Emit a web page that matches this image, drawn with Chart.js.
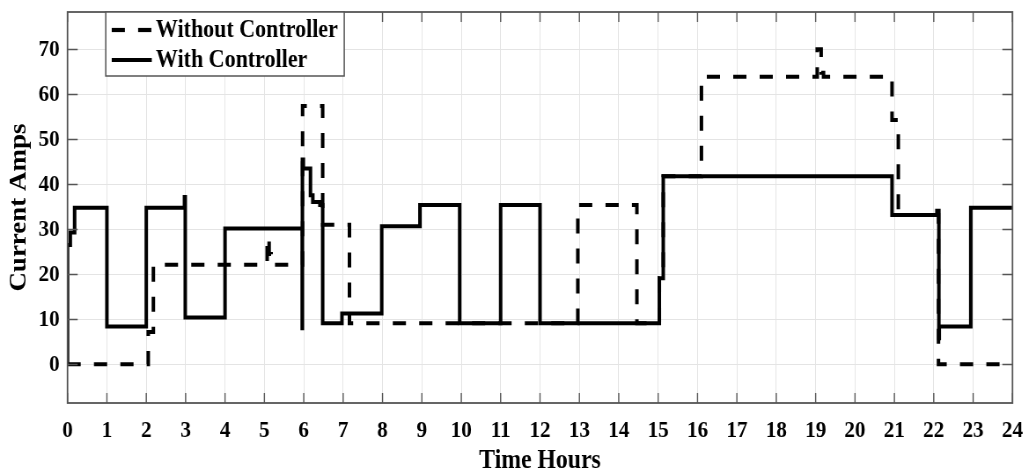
<!DOCTYPE html>
<html>
<head>
<meta charset="utf-8">
<script src="https://cdn.jsdelivr.net/npm/chart.js@4/dist/chart.umd.min.js"></script>
<style>
  html, body { margin: 0; padding: 0; background: #fff; overflow: hidden; }
  /* the figure is laid out on a wider canvas and narrowed to 1029px */
  #wrap { width: 1169px; height: 473px; transform: scaleX(0.8802); transform-origin: 0 0; }
</style>
</head>
<body>
<div id="wrap"><canvas id="c" width="1169" height="473"></canvas></div>
<script>
// Axis ticks
const hourTicks = [0,1,2,3,4,5,6,7,8,9,10,11,12,13,14,15,16,17,18,19,20,21,22,23,24];
const ampTicks = [0,10,20,30,40,50,60,70];

// Series names
const seriesNames = ['Without Controller', 'With Controller'];

// Without controller: time (h) at which the current changes, and the new current (A)
const withoutTime = [0, 2.05, 2.18, 5.07, 5.12, 5.17, 5.97, 6.48, 7.16, 12.96, 14.46, 15.03, 15.13, 16.1, 19.04, 19.14, 19.2, 20.94, 21.1, 22.12, 24];
const withoutAmps = [0, 7.2, 22.1, 28.2, 24.5, 22.1, 57.4, 31.0, 9.1, 35.4, 9.1, 19.1, 41.8, 63.9, 70.0, 64.8, 63.9, 54.3, 33.2, 0, 0];

// With controller: time (h) at which the current changes, and the new current (A)
const withTime = [0, 0, 0.07, 0.18, 1.0, 2.0, 2.97, 2.99, 4.0, 5.96, 5.965, 5.99, 6.17, 6.23, 6.41, 6.48, 6.97, 7.98, 8.95, 9.96, 11.0, 12.0, 15.03, 15.13, 20.94, 22.08, 22.13, 22.14, 22.94, 24];
const withAmps = [0, 26.5, 29.3, 34.8, 8.4, 34.8, 37.2, 10.4, 30.2, 8.0, 45.5, 43.5, 37.6, 36.1, 35.4, 9.1, 11.3, 30.7, 35.4, 9.1, 35.4, 9.1, 19.1, 41.8, 33.2, 34.1, 5.8, 8.4, 34.8, 34.8];

const FONT = 'Liberation Serif';
const toPoints = (ts, vs) => ts.map((t, i) => ({ x: t, y: vs[i] }));

// Box frame with inward tick marks on all four sides
const framePlugin = {
  id: 'frameTicks',
  afterDraw(chart) {
    const { ctx, chartArea: a, scales: { x, y } } = chart;
    ctx.save();
    ctx.strokeStyle = '#555';
    ctx.lineWidth = 1.4;
    ctx.beginPath();
    hourTicks.forEach(h => {
      const px = x.getPixelForValue(h);
      ctx.moveTo(px, a.bottom); ctx.lineTo(px, a.bottom - 10);
      ctx.moveTo(px, a.top); ctx.lineTo(px, a.top + 10);
    });
    ampTicks.forEach(v => {
      const py = Math.round(y.getPixelForValue(v)) + 0.5;
      ctx.moveTo(a.left, py); ctx.lineTo(a.left + 11.5, py);
      ctx.moveTo(a.right, py); ctx.lineTo(a.right - 11.5, py);
    });
    ctx.stroke();
    ctx.lineWidth = 1.8;
    ctx.strokeRect(a.left, a.top, a.right - a.left, a.bottom - a.top);
    ctx.restore();
  }
};

// Legend box in the upper left corner of the plot
const legendPlugin = {
  id: 'boxLegend',
  afterDraw(chart) {
    const { ctx, chartArea: a } = chart;
    const bx = a.left + 43.4, by = a.top, bw = 271, bh = 64;
    ctx.save();
    ctx.fillStyle = '#fff';
    ctx.fillRect(bx, by, bw, bh);
    ctx.strokeStyle = '#555';
    ctx.lineWidth = 1.5;
    ctx.strokeRect(bx, by, bw, bh);
    const metas = [chart.getDatasetMeta(1), chart.getDatasetMeta(0)];
    const rows = [by + 18, by + 48];
    metas.forEach((m, i) => {
      const ds = chart.data.datasets[m.index];
      ctx.strokeStyle = ds.borderColor;
      ctx.lineWidth = 4.2;
      ctx.setLineDash(ds.borderDash || []);
      ctx.beginPath();
      ctx.moveTo(bx + 6.8, rows[i]);
      ctx.lineTo(bx + 52.3, rows[i]);
      ctx.stroke();
      ctx.setLineDash([]);
      ctx.fillStyle = '#000';
      ctx.font = 'bold 25px "' + FONT + '"';
      ctx.textBaseline = 'middle';
      ctx.textAlign = 'left';
      ctx.fillText(ds.label, bx + 57, rows[i] + 1);
    });
    ctx.restore();
  }
};

new Chart(document.getElementById('c'), {
  type: 'line',
  data: {
    datasets: [
      {
        label: seriesNames[1],
        data: toPoints(withTime, withAmps),
        borderColor: '#000',
        borderWidth: 4,
        stepped: true,
        pointRadius: 0,
        borderCapStyle: 'butt',
        borderJoinStyle: 'miter'
      },
      {
        label: seriesNames[0],
        data: toPoints(withoutTime, withoutAmps),
        borderColor: '#000',
        borderWidth: 4,
        borderDash: [15, 15],
        stepped: true,
        pointRadius: 0,
        borderCapStyle: 'butt',
        borderJoinStyle: 'miter'
      }
    ]
  },
  options: {
    responsive: false,
    animation: false,
    devicePixelRatio: 1,
    layout: { padding: { top: 12, right: 18.7, left: 0, bottom: 0 } },
    plugins: { legend: { display: false }, tooltip: { enabled: false } },
    scales: {
      x: {
        type: 'linear',
        min: 0,
        max: 24,
        afterBuildTicks: s => { s.ticks = hourTicks.map(v => ({ value: v })); },
        afterFit: s => { s.height = 70; s.paddingLeft = 0; s.paddingRight = 0; },
        ticks: {
          autoSkip: false,
          maxRotation: 0,
          padding: 13,
          color: '#000',
          font: { family: FONT, weight: 'bold', size: 24 }
        },
        grid: { color: '#e4e4e4', lineWidth: 1, drawTicks: false },
        border: { display: false },
        title: {
          display: true,
          text: 'Time Hours',
          color: '#000',
          font: { family: FONT, weight: 'bold', size: 27, lineHeight: 0.9 },
          padding: { top: 0, bottom: 0 }
        }
      },
      y: {
        type: 'linear',
        min: -8.6,
        max: 78.3,
        afterBuildTicks: s => { s.ticks = ampTicks.map(v => ({ value: v })); },
        afterFit: s => { s.width = 76.7; s.paddingTop = 0; s.paddingBottom = 0; },
        ticks: {
          padding: 9,
          color: '#000',
          font: { family: FONT, weight: 'bold', size: 24 }
        },
        grid: { color: '#e4e4e4', lineWidth: 1, drawTicks: false },
        border: { display: false },
        title: {
          display: true,
          text: 'Current Amps',
          color: '#000',
          font: { family: FONT, weight: 'bold', size: 27, lineHeight: 1 },
          padding: { top: 9, bottom: 0 }
        }
      }
    }
  },
  plugins: [framePlugin, legendPlugin]
});
</script>
</body>
</html>
